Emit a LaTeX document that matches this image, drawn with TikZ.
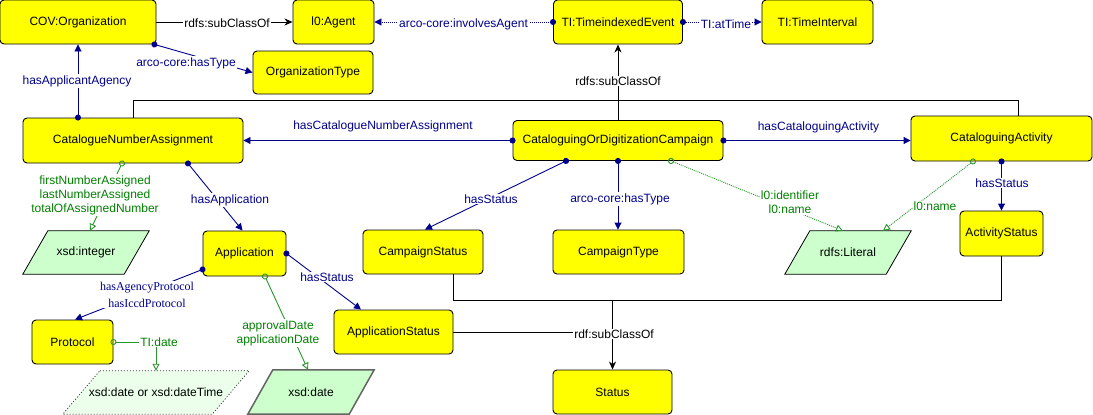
\documentclass[tikz,border=0pt]{standalone}
\usepackage{fontspec}
\setmainfont{Liberation Sans}
\newfontfamily\labserif{Liberation Serif}
\usetikzlibrary{arrows.meta,backgrounds,calc}
\definecolor{navy}{RGB}{0,0,140}
\definecolor{grtext}{RGB}{0,128,0}
\definecolor{grline}{RGB}{40,150,40}
\definecolor{litfill}{RGB}{204,255,204}
\definecolor{dtfill}{RGB}{235,255,235}
\definecolor{ylw}{RGB}{255,255,0}
\definecolor{dategray}{RGB}{100,100,100}
\newcommand\drawpara[3]{\draw[#2] ([xshift=#3]#1.north west) -- ([xshift=#3]#1.north east) -- ([xshift=-#3]#1.south east) -- ([xshift=-#3]#1.south west) -- cycle;}
\begin{document}
\begin{tikzpicture}[x=1pt,y=-1pt,
  every node/.style={font=\fontsize{12}{14}\selectfont, inner sep=0pt},
  cls/.style 2 args={draw=black, line width=0.9pt, fill=ylw, rounded corners=4pt, minimum width=#1, minimum height=#2},
  litbox/.style 2 args={minimum width=#1, minimum height=#2},
  plain/.style={draw=black, line width=0.9pt},
  subc/.style={plain, arrows={-Stealth[length=8pt,width=7pt,inset=2.5pt]}},
  rel/.style={draw=navy, line width=0.9pt, shorten <=-3pt, arrows={Circle[length=6pt]-Triangle[length=7pt,width=7pt]}},
  reldot/.style={rel, dash pattern=on 1pt off 1pt},
  attr/.style={draw=grline, line width=0.9pt, shorten <=-3pt, arrows={Circle[open,length=6pt]-Triangle[open,length=7pt,width=7pt]}},
  attrdot/.style={attr, dash pattern=on 1pt off 1pt},
  lab/.style={fill=white, inner sep=1pt, text=navy},
  glab/.style={fill=white, inner sep=1pt, text=grtext, align=center},
  blab/.style={fill=white, inner sep=1pt, text=black},
]
\useasboundingbox (0,0) rectangle (1093,415);

% classes
\node[cls={156pt}{44pt}] (org) at (78,22) {COV:Organization};
\node[cls={81pt}{44pt}] (agent) at (333.5,22) {l0:Agent};
\node[cls={120pt}{43pt}] (orgtype) at (313,72.5) {OrganizationType};
\node[cls={220pt}{45pt}] (cna) at (133,140.5) {CatalogueNumberAssignment};
\node[cls={129pt}{44pt}] (tie) at (618,22) {TI:TimeindexedEvent};
\node[cls={111pt}{44pt}] (tint) at (817.5,22) {TI:TimeInterval};
\node[cls={210pt}{40pt}] (camp) at (618,140.5) {CataloguingOrDigitizationCampaign};
\node[cls={181pt}{45pt}] (cact) at (1001.5,138.5) {CataloguingActivity};
\node[cls={83pt}{45pt}] (astat) at (1001.5,233.5) {ActivityStatus};
\node[cls={120pt}{44pt}] (cstat) at (423,252) {CampaignStatus};
\node[cls={131pt}{44pt}] (ctype) at (618.5,252) {CampaignType};
\node[cls={119pt}{44pt}] (status) at (612.5,392) {Status};
\node[cls={119pt}{44pt}] (appstat) at (393.5,332) {ApplicationStatus};
\node[cls={83pt}{45pt}] (app) at (244.5,253.5) {Application};
\node[cls={81pt}{44pt}] (proto) at (72.5,342) {Protocol};

% literals
\node[litbox={101pt}{43pt}] (lit) at (848,252.5) {rdfs:Literal};
\node[litbox={101pt}{43pt}] (int) at (86,252.5) {xsd:integer};
\node[litbox={101pt}{44pt}] (date) at (311,392) {xsd:date};
\node[litbox={149pt}{43pt}] (dt) at (156,392.5) {xsd:date or xsd:dateTime};
\begin{scope}[on background layer]
\drawpara{lit}{draw=black, line width=0.8pt, fill=litfill}{12.5pt}
\drawpara{int}{draw=black, line width=0.8pt, fill=litfill}{12.5pt}
\drawpara{date}{draw=dategray, line width=1.5pt, fill=litfill}{12.5pt}
\drawpara{dt}{draw=black!80, line width=0.8pt, dash pattern=on 1pt off 2pt, fill=dtfill}{18.5pt}
\end{scope}

% connectors
\draw[subc] (org.east) -- (agent.west);
\draw[rel] ([xshift=-2pt]org.south east) -- (orgtype.west);
\draw[rel] (org.south |- cna.north) -- (org.south);
\draw[rel] (camp.west) -- (cna.east);
\draw[rel] (camp.east) -- (camp.east -| cact.west);
\coordinate (bus) at (618,100);
\draw[plain] (cna.north) |- (bus);
\draw[plain] ([xshift=16.5pt]cact.north) |- (bus);
\draw[subc] (camp.north) -- (tie.south);
\draw[reldot] (tie.west) -- (agent.east);
\draw[reldot] (tie.east) -- (tint.west);
\draw[rel] ([xshift=-52pt]camp.south) -- ([xshift=2pt]cstat.north);
\draw[rel] (camp.south) -- (camp.south |- ctype.north);
\draw[attrdot] ([xshift=53pt]camp.south) -- ([xshift=-5pt]lit.north);
\draw[attrdot] ([xshift=-28.5pt]cact.south) -- ([xshift=35pt]lit.north);
\draw[rel] (cact.south) -- (astat.north);
\draw[attr] ([xshift=-11pt]cna.south) -- ([xshift=4pt]int.north);
\draw[rel] ([xshift=55pt]cna.south) -- ([xshift=-2pt]app.north);
\draw[rel] (app.east) -- ([xshift=-32.5pt]appstat.north);
\draw[rel] ([yshift=7pt]app.south west) -- ([xshift=2.5pt]proto.north);
\draw[attr] ([xshift=20.5pt]app.south) -- ([xshift=-3pt]date.north);
\draw[attr] (proto.east) -| (dt.north);
\coordinate (sbus) at (612.5,300);
\draw[plain] ([xshift=30pt]cstat.south) |- (sbus);
\draw[plain] (astat.south) |- (sbus);
\draw[subc] (sbus) -- (status.north);
\draw[plain] (appstat.east) -- (appstat.east -| status.north);

% labels
\node[blab] (l1) at (227,23) {rdfs:subClassOf};
\node[lab] (l2) at (186,63) {arco-core:hasType};
\node[lab] (l3) at (77,81) {hasApplicantAgency};
\node[lab] (l4) at (463.5,24) {arco-core:involvesAgent};
\node[lab] (l5) at (726,24) {TI:atTime};
\node[blab] (l6) at (618,81) {rdfs:subClassOf};
\node[lab] (l7) at (383,126) {hasCatalogueNumberAssignment};
\node[lab] (l8) at (818.5,127) {hasCataloguingActivity};
\node[lab] (l9) at (491,199) {hasStatus};
\node[lab] (l10) at (620,199) {arco-core:hasType};
\node[glab] (l11) at (790,202.5) {l0:identifier\\l0:name};
\node[glab] (l12) at (935,206) {l0:name};
\node[lab] (l13) at (1002,183) {hasStatus};
\node[glab] (l14) at (95,195) {firstNumberAssigned\\lastNumberAssigned\\totalOfAssignedNumber};
\node[lab] (l15) at (230,200) {hasApplication};
\node[lab] (l16) at (327,277) {hasStatus};
\node[lab, align=center, font=\labserif\fontsize{12}{17}\selectfont] (l17) at (147,294.5) {hasAgencyProtocol\\hasIccdProtocol};
\node[glab] (l18) at (159,342) {TI:date};
\node[glab] (l19) at (278,333) {approvalDate\\applicationDate};
\node[blab] (l20) at (614,334) {rdf:subClassOf};
\end{tikzpicture}
\end{document}
